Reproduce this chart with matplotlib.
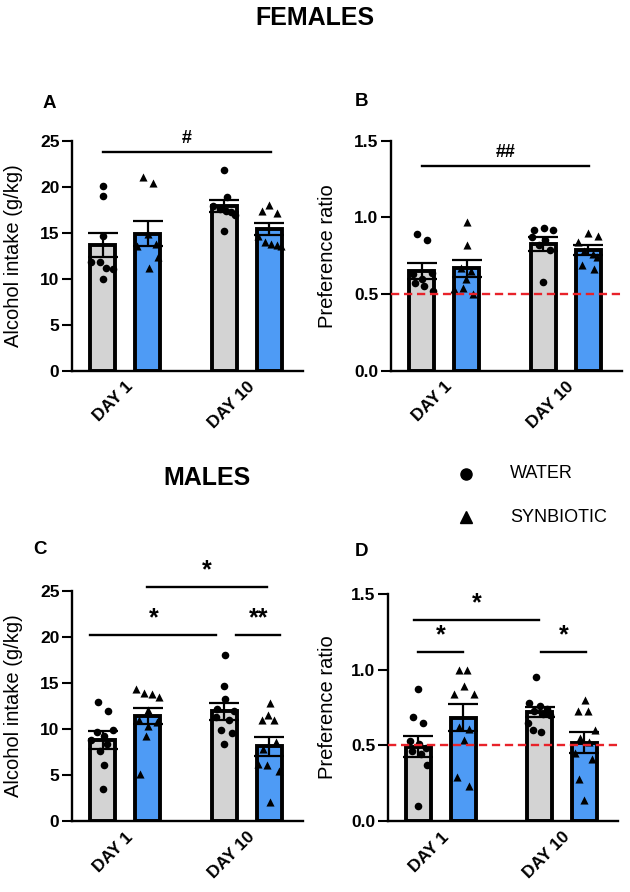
import numpy as np
import matplotlib.pyplot as plt
from matplotlib.lines import Line2D

plt.rcParams['font.family'] = ['Liberation Sans', 'DejaVu Sans']

days = ['DAY 1', 'DAY 10']
treatments = ['WATER', 'SYNBIOTIC']

# bar order: day1 water, day1 synbiotic, day10 water, day10 synbiotic
fem_intake_mean = [13.7, 14.9, 17.9, 15.4]
fem_intake_sem = [1.3, 1.35, 0.7, 0.65]
fem_intake_pts = [
    [20.1, 19.0, 14.6, 11.8, 11.8, 11.2, 11.1, 10.0],
    [21.0, 20.4, 14.9, 13.8, 13.5, 12.4, 11.2],
    [21.8, 18.9, 17.9, 17.6, 17.4, 17.2, 16.9, 15.2],
    [18.0, 17.4, 17.1, 14.6, 14.0, 13.8, 13.7, 13.5],
]

fem_pref_mean = [0.65, 0.667, 0.826, 0.787]
fem_pref_sem = [0.05, 0.055, 0.045, 0.033]
fem_pref_pts = [
    [0.89, 0.85, 0.64, 0.63, 0.60, 0.57, 0.55, 0.52],
    [0.97, 0.82, 0.67, 0.65, 0.60, 0.54, 0.53, 0.50],
    [0.93, 0.92, 0.92, 0.87, 0.85, 0.82, 0.79, 0.58],
    [0.90, 0.88, 0.84, 0.78, 0.76, 0.74, 0.69, 0.66],
]

male_intake_mean = [8.8, 11.4, 11.9, 8.1]
male_intake_sem = [1.0, 0.9, 0.9, 1.0]
male_intake_pts = [
    [12.9, 11.9, 9.9, 9.7, 9.2, 8.8, 8.4, 7.6, 6.1, 3.5],
    [14.3, 13.9, 13.8, 13.5, 12.0, 11.0, 10.8, 10.3, 9.2, 5.1],
    [18.0, 14.7, 13.2, 12.2, 11.9, 11.3, 11.0, 9.9, 9.5, 8.4],
    [12.8, 11.5, 11.0, 11.0, 8.6, 7.8, 6.2, 6.1, 5.4, 2.1],
]

male_pref_mean = [0.49, 0.683, 0.72, 0.518]
male_pref_sem = [0.07, 0.09, 0.035, 0.068]
male_pref_pts = [
    [0.87, 0.69, 0.65, 0.53, 0.51, 0.48, 0.46, 0.44, 0.37, 0.10],
    [1.0, 1.0, 0.89, 0.84, 0.84, 0.62, 0.61, 0.535, 0.29, 0.23],
    [0.95, 0.78, 0.76, 0.74, 0.73, 0.71, 0.70, 0.65, 0.60, 0.59],
    [0.80, 0.73, 0.73, 0.60, 0.55, 0.52, 0.45, 0.41, 0.28, 0.14],
]

# horizontal scatter offsets of the points (layout)
fem_intake_dx = [
    [0, 0, 0, -0.26, -0.06, 0.08, 0.24, 0],
    [-0.1, 0.12, 0, 0.18, -0.24, 0.24, 0.03],
    [0, 0.07, -0.25, -0.1, 0.05, 0.15, 0.25, 0],
    [0, -0.17, 0.17, -0.24, -0.1, 0.05, 0.18, 0.26],
]
fem_pref_dx = [
    [-0.1, 0.12, 0.24, -0.2, 0.0, -0.15, 0.05, 0.25],
    [0.01, 0.0, -0.12, 0.1, -0.02, -0.08, -0.28, 0.14],
    [0.01, -0.2, 0.21, -0.25, 0.04, -0.1, 0.16, 0],
    [0, 0.22, -0.22, -0.1, 0.1, 0.2, -0.13, 0.13],
]
male_intake_dx = [
    [-0.11, 0.11, 0.24, -0.12, 0.03, -0.25, 0.1, -0.05, 0.02, 0],
    [-0.25, -0.09, 0.1, 0.26, 0.0, -0.19, 0.2, 0.0, -0.03, -0.18],
    [0.02, 0.0, 0.02, -0.15, 0.22, -0.19, 0.1, -0.07, 0.17, 0.0],
    [0.01, -0.02, -0.17, 0.1, 0.14, -0.13, -0.24, -0.04, 0.22, 0.01],
]
male_pref_dx = [
    [0, -0.13, 0.11, -0.2, 0.02, 0.16, -0.15, 0.05, 0.2, 0],
    [-0.1, 0.09, 0.01, -0.21, 0.24, -0.1, 0.12, 0.01, -0.15, 0.13],
    [-0.07, -0.23, 0.0, 0.16, -0.12, 0.08, 0.24, -0.25, -0.14, 0.03],
    [0.01, -0.15, 0.09, 0.24, -0.1, 0.1, -0.2, 0.18, -0.13, 0.0],
]

# significance bars: (x from, x to, y, label)
sig_a = [(0.0, 3.75, 23.8, '#')]
sig_b = [(0.0, 3.72, 1.337, '##')]
sig_c = [(0.98, 3.64, 25.4, '*'), (-0.27, 2.52, 20.2, '*'), (2.96, 3.95, 20.2, '**')]
sig_d = [(-0.1, 2.68, 1.328, '*'), (0.0, 1.0, 1.115, '*'), (2.74, 3.73, 1.115, '*')]

xpos = [0, 1, 2.7, 3.7]
colors = ['#d3d3d3', '#4e9bf5', '#d3d3d3', '#4e9bf5']
markers = ['o', '^', 'o', '^']

fig = plt.figure(figsize=(6.3, 8.92), dpi=100)


def panel(rect, means, sems, pts, dxs, ymax, ticks, ylabel, sigs, letter, lx, ly, labx, ref=None):
    ax = fig.add_axes(rect)
    ax.bar(xpos, means, width=0.55, color=colors, edgecolor='black', linewidth=2.8, zorder=2)
    ax.errorbar(xpos, means, yerr=sems, fmt='none', ecolor='black', elinewidth=1.6,
                capsize=11, capthick=1.6, zorder=3)
    for i in range(4):
        xs = np.array(xpos[i]) + np.array(dxs[i])
        ax.scatter(xs, pts[i], marker=markers[i], s=30 if markers[i] == 'o' else 34,
                   color='black', zorder=4, linewidths=0, clip_on=False)
    if ref is not None:
        ax.axhline(ref, color='#e8222a', lw=1.7, dashes=(3.5, 2), zorder=5)
    ax.set_xlim(-0.68, 4.45)
    ax.set_ylim(0, ymax)
    ax.set_yticks(ticks)
    if ymax < 5:
        ax.set_yticklabels(['%.1f' % t for t in ticks])
    ax.set_xticks([0.5, 3.2])
    ax.set_xticklabels(days, rotation=45, ha='right', va='top', rotation_mode='anchor',
                       fontsize=12.5, fontweight='bold')
    ax.tick_params(axis='x', length=0, pad=6)
    ax.tick_params(axis='y', length=7, width=1.5, labelsize=12.5, pad=2)
    for lab in ax.get_yticklabels():
        lab.set_fontweight('bold')
    ax.spines['top'].set_visible(False)
    ax.spines['right'].set_visible(False)
    ax.spines['left'].set_linewidth(1.7)
    ax.spines['bottom'].set_linewidth(1.7)
    ax.set_ylabel(ylabel, fontsize=14.5)
    ax.yaxis.set_label_coords(labx, 0.5)
    for x1, x2, y, t in sigs:
        ax.plot([x1, x2], [y, y], color='black', lw=1.7, clip_on=False)
        ax.text((x1 + x2) / 2, y + ymax * 0.022, t, ha='center', va='bottom',
                fontsize=18 if '*' in t else 13, fontweight='bold', clip_on=False)
    fig.text(lx, ly, letter, fontsize=13.5, fontweight='bold', ha='center', va='center')
    return ax


H = 892.0
W = 630.0
panel([72 / W, 1 - 370.7 / H, 231 / W, 230 / H], fem_intake_mean, fem_intake_sem,
      fem_intake_pts, fem_intake_dx, 25, [0, 5, 10, 15, 20, 25], 'Alcohol intake (g/kg)',
      sig_a, 'A', 49 / W, 1 - 103 / H, -0.212)
panel([391 / W, 1 - 370.7 / H, 231 / W, 230 / H], fem_pref_mean, fem_pref_sem,
      fem_pref_pts, fem_pref_dx, 1.5, [0, 0.5, 1.0, 1.5], 'Preference ratio',
      sig_b, 'B', 362 / W, 1 - 101 / H, -0.234, ref=0.5)
panel([72 / W, 1 - 821 / H, 231 / W, 230.3 / H], male_intake_mean, male_intake_sem,
      male_intake_pts, male_intake_dx, 25, [0, 5, 10, 15, 20, 25], 'Alcohol intake (g/kg)',
      sig_c, 'C', 40 / W, 1 - 549 / H, -0.212)
panel([388 / W, 1 - 821 / H, 230 / W, 227 / H], male_pref_mean, male_pref_sem,
      male_pref_pts, male_pref_dx, 1.5, [0, 0.5, 1.0, 1.5], 'Preference ratio',
      sig_d, 'D', 362 / W, 1 - 551 / H, -0.222, ref=0.5)

fig.text(315 / W, 1 - 18 / H, 'FEMALES', fontsize=18, fontweight='bold', ha='center', va='center')
fig.text(207 / W, 1 - 478 / H, 'MALES', fontsize=18, fontweight='bold', ha='center', va='center')

# legend
for name, mk, yy in zip(treatments, ['o', '^'], [474, 517]):
    fig.add_artist(Line2D([466 / W], [1 - yy / H], marker=mk, color='black', ms=8, ls='',
                          transform=fig.transFigure))
    fig.text(510 / W, 1 - yy / H, name, fontsize=13, ha='left', va='center')

plt.savefig('out.png', dpi=100)
